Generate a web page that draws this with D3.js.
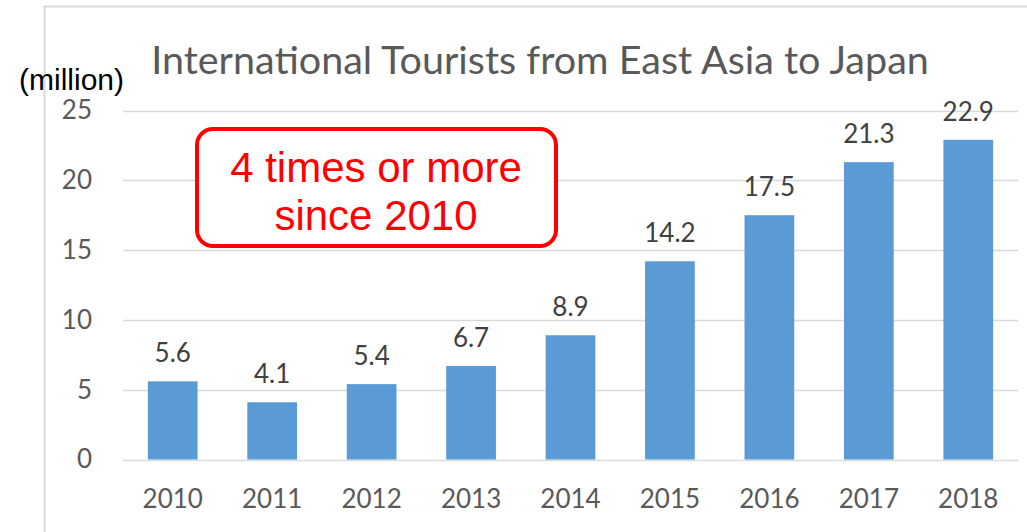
<!DOCTYPE html>
<html>
<head>
<meta charset="utf-8">
<script src="https://cdn.jsdelivr.net/npm/d3@7"></script>
<style>
  body { margin: 0; background: #fff; }
  svg { display: block; }
</style>
</head>
<body>
<div id="chart"></div>
<script>
const years = ['2010', '2011', '2012', '2013', '2014', '2015', '2016', '2017', '2018']
const tourists = [5.6, 4.1, 5.4, 6.7, 8.9, 14.2, 17.5, 21.3, 22.9]
const yTicks = [0, 5, 10, 15, 20, 25]
const title = 'International Tourists from East Asia to Japan'
const unitLabel = '(million)'
const noteLines = ['4 times or more', 'since 2010']

const width = 1027, height = 532
const plot = { left: 123, right: 1018, top: 110.5, bottom: 459.5 }
const labelFont = 'Lato, "Open Sans", sans-serif'

const svg = d3.select('#chart').append('svg')
  .attr('width', width)
  .attr('height', height)

// chart area border (runs off the right and bottom edges)
svg.append('rect')
  .attr('x', 44.5).attr('y', 6.5)
  .attr('width', 1100).attr('height', 600)
  .attr('fill', 'none')
  .attr('stroke', '#d9d9d9')
  .attr('stroke-width', 2)

const x = d3.scaleBand()
  .domain(years)
  .range([plot.left, plot.right])
  .paddingInner(0.5)
  .paddingOuter(0.25)

const y = d3.scaleLinear()
  .domain([0, 25])
  .range([plot.bottom, plot.top])

// gridlines
svg.append('g')
  .selectAll('line')
  .data(yTicks)
  .join('line')
  .attr('x1', plot.left)
  .attr('x2', plot.right)
  .attr('y1', d => Math.round(y(d)) + 0.5)
  .attr('y2', d => Math.round(y(d)) + 0.5)
  .attr('stroke', '#d9d9d9')
  .attr('stroke-width', 1.5)

// y axis labels
const yAxis = d3.axisLeft(y).tickValues(yTicks).tickSize(0).tickPadding(31)
svg.append('g')
  .attr('transform', `translate(${plot.left},0)`)
  .call(yAxis)
  .call(g => g.select('.domain').remove())
  .call(g => g.selectAll('text')
    .attr('font-family', labelFont)
    .attr('font-size', 26)
    .attr('fill', '#595959'))

// x axis labels
const xAxis = d3.axisBottom(x).tickSize(0).tickPadding(30)
svg.append('g')
  .attr('transform', `translate(0,${plot.bottom})`)
  .call(xAxis)
  .call(g => g.select('.domain').remove())
  .call(g => g.selectAll('text')
    .attr('font-family', labelFont)
    .attr('font-size', 26)
    .attr('fill', '#595959'))

// bars
svg.append('g')
  .selectAll('rect')
  .data(tourists)
  .join('rect')
  .attr('x', (d, i) => x(years[i]))
  .attr('y', d => y(d))
  .attr('width', x.bandwidth())
  .attr('height', d => y(0) - y(d))
  .attr('fill', '#5b9bd5')

// value labels
svg.append('g')
  .selectAll('text')
  .data(tourists)
  .join('text')
  .attr('x', (d, i) => x(years[i]) + x.bandwidth() / 2)
  .attr('y', d => y(d) - 19)
  .attr('text-anchor', 'middle')
  .attr('font-family', labelFont)
  .attr('font-size', 26)
  .attr('fill', '#404040')
  .text(d => d.toFixed(1))

// title
svg.append('text')
  .attr('x', 540)
  .attr('y', 74)
  .attr('text-anchor', 'middle')
  .attr('font-family', labelFont)
  .attr('font-size', 39.5)
  .attr('fill', '#595959')
  .text(title)

// unit label
svg.append('text')
  .attr('x', 19)
  .attr('y', 90)
  .attr('font-family', '"Liberation Sans", Arial, sans-serif')
  .attr('font-size', 30)
  .attr('fill', '#000')
  .text(unitLabel)

// callout box
svg.append('rect')
  .attr('x', 197).attr('y', 129)
  .attr('width', 359).attr('height', 117)
  .attr('rx', 16)
  .attr('fill', '#fff')
  .attr('stroke', '#ff0000')
  .attr('stroke-width', 4)

svg.append('g')
  .selectAll('text')
  .data(noteLines)
  .join('text')
  .attr('x', 376)
  .attr('y', (d, i) => 182 + i * 48)
  .attr('text-anchor', 'middle')
  .attr('font-family', '"Liberation Sans", Arial, sans-serif')
  .attr('font-size', 42)
  .attr('fill', '#ff0000')
  .text(d => d)
</script>
</body>
</html>
